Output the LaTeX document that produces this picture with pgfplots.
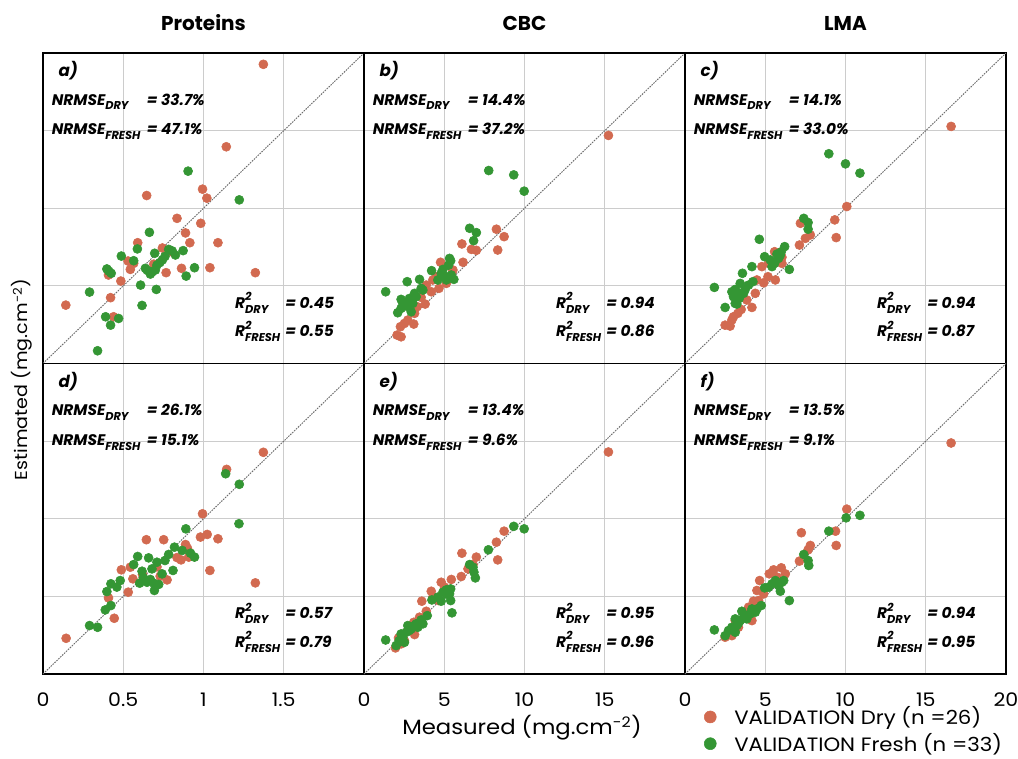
\documentclass[border=0pt]{standalone}
\usepackage{fontspec}
\setmainfont{Poppins}
\newfontfamily\cg[FakeStretch=1.1]{Poppins}
\usepackage{pgfplots}
\pgfplotsset{compat=1.18}
\usepackage{pgfplotstable}
\definecolor{dryc}{RGB}{210,106,80}
\definecolor{frc}{RGB}{52,150,52}

\pgfplotstableread{
x y
1.373 1.927
1.142 1.396
0.994 1.123
1.021 1.065
0.646 1.082
0.835 0.935
0.983 0.903
0.888 0.841
0.915 0.778
1.090 0.778
0.590 0.778
0.744 0.744
1.323 0.585
1.040 0.617
0.863 0.613
0.767 0.585
0.544 0.606
0.565 0.645
0.485 0.531
0.408 0.570
0.421 0.424
0.142 0.376
0.440 0.301
0.530 0.660
0.800 0.720
0.690 0.640
}\aDry
\pgfplotstableread{
x y
0.904 1.239
1.223 1.054
0.663 0.845
0.588 0.738
0.488 0.692
0.565 0.662
0.696 0.710
0.783 0.735
0.825 0.699
0.873 0.727
0.744 0.667
0.710 0.634
0.638 0.613
0.669 0.576
0.700 0.602
0.944 0.617
0.892 0.563
0.398 0.609
0.425 0.581
0.608 0.505
0.706 0.477
0.290 0.460
0.617 0.374
0.390 0.301
0.471 0.290
0.421 0.247
0.340 0.082
0.805 0.725
0.728 0.650
0.650 0.600
0.760 0.690
0.680 0.590
0.410 0.595
}\aFresh
\pgfplotstableread{
x y
15.23 14.69
8.25 8.65
8.73 8.17
8.33 7.31
6.10 7.70
6.69 7.35
7.00 7.29
6.17 6.52
4.77 6.52
5.54 6.02
4.29 5.38
4.67 4.84
4.19 4.62
3.81 3.83
3.15 3.23
3.10 2.54
2.27 2.37
2.06 1.83
2.31 1.72
2.73 2.80
3.56 4.26
5.13 5.16
3.88 5.05
2.52 2.58
3.31 3.66
4.50 5.59
}\bDry
\pgfplotstableread{
x y
7.77 12.43
9.33 12.15
9.98 11.10
6.58 8.71
7.00 8.43
6.83 7.91
5.33 6.77
5.27 6.34
4.92 6.06
4.21 5.98
5.60 5.42
5.02 5.63
3.46 5.42
2.69 5.27
1.35 4.62
3.56 4.84
3.15 4.52
2.31 4.13
2.83 4.19
2.52 3.76
2.10 3.27
2.94 3.33
3.25 4.30
4.81 5.81
4.60 5.38
5.40 6.62
3.67 4.73
2.73 3.66
2.31 3.55
3.04 3.87
5.13 5.38
5.44 5.70
2.42 3.87
}\bFresh
\pgfplotstableread{
x y
16.58 15.27
10.08 10.11
9.33 9.25
9.42 8.11
7.19 9.03
7.81 8.28
7.50 8.06
7.13 7.63
5.58 7.20
6.04 6.84
4.79 6.24
5.63 5.38
5.17 5.59
4.90 5.20
4.48 5.38
4.38 4.52
4.17 3.61
3.50 3.48
3.02 3.01
2.81 2.41
2.50 2.47
2.92 2.80
5.21 6.45
6.04 6.45
3.85 4.09
3.29 3.23
}\cDry
\pgfplotstableread{
x y
8.96 13.51
10.00 12.86
10.90 12.26
7.40 9.35
7.67 9.08
7.67 8.65
4.63 8.00
6.21 7.53
6.00 7.20
4.96 6.88
5.83 6.77
5.58 6.45
4.17 6.24
6.50 6.06
3.58 5.81
4.23 5.27
3.44 5.16
1.83 4.90
3.13 4.77
3.75 4.77
3.02 4.30
3.38 4.19
2.50 3.61
3.23 3.83
5.42 6.24
5.94 6.99
2.92 4.62
3.65 4.52
3.96 5.05
5.31 6.67
5.73 7.05
3.13 3.87
3.44 4.52
}\cFresh
\pgfplotstableread{
x y
1.373 1.428
1.144 1.318
0.994 1.032
0.981 0.882
1.023 0.899
1.090 0.871
0.644 0.865
0.752 0.865
0.888 0.834
0.860 0.735
0.908 0.753
1.040 0.667
1.323 0.587
0.773 0.606
0.560 0.613
0.488 0.671
0.531 0.527
0.408 0.490
0.444 0.359
0.144 0.230
0.544 0.688
0.620 0.640
0.710 0.690
0.835 0.750
0.730 0.630
0.900 0.810
}\dDry
\pgfplotstableread{
x y
1.138 1.290
1.223 1.222
1.221 0.968
0.890 0.935
0.819 0.817
0.867 0.796
0.919 0.778
0.944 0.753
0.783 0.770
0.590 0.757
0.658 0.748
0.710 0.720
0.565 0.705
0.679 0.677
0.810 0.667
0.617 0.662
0.742 0.645
0.481 0.602
0.423 0.581
0.602 0.585
0.648 0.591
0.690 0.585
0.721 0.577
0.694 0.538
0.398 0.531
0.423 0.441
0.388 0.413
0.290 0.312
0.340 0.301
0.460 0.560
0.625 0.620
0.669 0.609
0.760 0.731
}\dFresh
\pgfplotstableread{
x y
15.23 14.30
8.73 9.20
8.25 8.49
8.33 7.35
6.10 7.78
7.00 7.53
6.06 6.28
5.44 6.09
4.81 5.91
4.19 5.33
4.65 4.73
3.60 4.69
3.88 4.04
3.10 3.33
3.15 2.54
2.15 2.32
1.96 1.68
2.52 2.15
5.02 5.59
6.48 6.77
6.79 7.05
4.29 4.95
3.46 3.66
2.73 2.80
2.31 1.94
2.94 3.01
}\eDry
\pgfplotstableread{
x y
9.33 9.51
9.98 9.35
7.75 8.00
6.58 7.05
6.85 6.56
6.94 6.19
5.40 5.48
4.92 5.27
5.19 5.12
5.40 4.73
4.23 4.77
4.81 4.69
5.48 3.94
3.94 3.76
3.56 3.48
3.25 3.23
2.73 3.12
2.94 2.90
2.31 2.58
2.19 2.15
1.35 2.19
2.52 2.04
2.00 1.83
3.35 3.01
3.67 3.23
2.83 2.80
3.15 3.12
5.13 5.42
4.60 4.95
2.42 2.37
2.63 2.69
6.79 6.88
5.33 5.16
}\eFresh
\pgfplotstableread{
x y
16.58 14.88
10.08 10.62
9.38 9.20
9.42 8.28
7.25 9.10
7.81 8.28
7.67 8.00
7.13 7.27
6.00 6.84
5.52 6.71
5.25 6.45
4.65 6.02
4.48 5.38
4.27 4.69
4.17 3.44
3.13 3.44
2.92 2.47
2.50 2.37
6.25 6.45
5.73 6.24
4.90 5.16
3.75 3.87
3.33 3.01
2.71 2.69
3.96 4.30
4.58 4.73
}\fDry
\pgfplotstableread{
x y
10.04 10.06
10.90 10.22
8.96 9.20
7.40 7.70
7.67 7.31
7.71 6.99
6.15 6.02
5.63 6.02
5.94 5.33
4.96 5.55
5.42 5.81
6.50 4.73
4.75 4.41
4.17 4.19
3.54 4.04
3.85 3.76
3.13 3.55
3.33 3.27
2.92 3.01
1.83 2.84
2.50 2.47
3.13 2.69
4.38 3.98
3.65 3.66
4.06 3.87
3.44 3.44
2.71 2.80
5.83 5.70
5.21 5.59
6.04 5.91
4.48 4.19
3.85 3.55
3.23 3.12
}\fFresh

\newcommand{\sub}[1]{\raisebox{-0.3em}{\fontsize{8.5}{9}\selectfont #1}}
\newcommand{\Rsq}[1]{R\rlap{\raisebox{0.5em}{\fontsize{8.5}{9}\selectfont 2}}\raisebox{-0.32em}{\fontsize{8.5}{9}\selectfont #1}}

\tikzset{st/.style={anchor=base west, inner sep=0pt, font=\fontsize{11.5}{14}\selectfont\bfseries\itshape}}
\pgfplotsset{
  panel/.style={
    scale only axis, width=240.75pt, height=232.875pt, anchor=south west,
    axis line style={black, line width=1.4pt},
    grid=major, major grid style={gray!40, line width=0.7pt},
    yticklabels={}, major tick length=0pt,
    xticklabel style={font=\cg\fontsize{14}{16}\selectfont, yshift=-10.5pt},
    /pgf/number format/assume math mode=true,
    clip=false,
  },
  prot/.style={xmin=0,xmax=2,ymin=0,ymax=2,xtick={0,0.5,1,1.5},ytick={0.5,1,1.5}},
  big/.style={xmin=0,xmax=20,ymin=0,ymax=20,xtick={0,5,10,15},ytick={5,10,15}},
  nolab/.style={xticklabels={}},
  dry/.style={only marks, mark=*, mark size=3.4pt, color=dryc},
  fresh/.style={only marks, mark=*, mark size=3.4pt, color=frc},
  diag/.style={gray!85!black, dash pattern=on 1.2pt off 0.8pt, line width=0.7pt, forget plot},
}
\newcommand{\stats}[5]{%
  \node[st, font=\fontsize{12.5}{14}\selectfont\bfseries\itshape] at (rel axis cs:0.048,0.924) {#1};
  \node[st] at (rel axis cs:0.027,0.8325) {NRMSE\sub{DRY}};
  \node[st] at (rel axis cs:0.323,0.8325) {= #2};
  \node[st] at (rel axis cs:0.027,0.736) {NRMSE\sub{FRESH}};
  \node[st] at (rel axis cs:0.323,0.736) {= #3};
  \node[st] at (rel axis cs:0.598,0.178) {\Rsq{DRY}};
  \node[st] at (rel axis cs:0.754,0.178) {= #4};
  \node[st] at (rel axis cs:0.598,0.0863) {\Rsq{FRESH}};
  \node[st] at (rel axis cs:0.754,0.0863) {= #5};
}

\begin{document}
\begin{tikzpicture}
\path[use as bounding box] (0,0) rectangle (763.5pt,568.5pt);

% top row
\begin{axis}[panel, prot, nolab, at={(32.25pt,295.875pt)}]
\addplot[diag] coordinates {(0,0) (2,2)};
\addplot[dry] table {\aDry};
\addplot[fresh] table {\aFresh};
\stats{a)}{33.7\%}{47.1\%}{0.45}{0.55}
\end{axis}
\begin{axis}[panel, big, nolab, at={(273pt,295.875pt)}]
\addplot[diag] coordinates {(0,0) (20,20)};
\addplot[dry] table {\bDry};
\addplot[fresh] table {\bFresh};
\stats{b)}{14.4\%}{37.2\%}{0.94}{0.86}
\end{axis}
\begin{axis}[panel, big, nolab, at={(513.75pt,295.875pt)}]
\addplot[diag] coordinates {(0,0) (20,20)};
\addplot[dry] table {\cDry};
\addplot[fresh] table {\cFresh};
\stats{c)}{14.1\%}{33.0\%}{0.94}{0.87}
\end{axis}

% bottom row
\begin{axis}[panel, prot, at={(32.25pt,63pt)}]
\addplot[diag] coordinates {(0,0) (2,2)};
\addplot[dry] table {\dDry};
\addplot[fresh] table {\dFresh};
\stats{d)}{26.1\%}{15.1\%}{0.57}{0.79}
\end{axis}
\begin{axis}[panel, big, at={(273pt,63pt)}]
\addplot[diag] coordinates {(0,0) (20,20)};
\addplot[dry] table {\eDry};
\addplot[fresh] table {\eFresh};
\stats{e)}{13.4\%}{9.6\%}{0.95}{0.96}
\end{axis}
\begin{axis}[panel, big, xtick={0,5,10,15,20}, at={(513.75pt,63pt)},
  legend style={at={(0,0)}, anchor=north west, xshift=11.25pt, yshift=-20.5pt, draw=none, fill=none,
    font=\cg\fontsize{14.5}{16}\selectfont, row sep=1pt, legend cell align=left},
  legend image code/.code={\path[draw=none] (-4.5pt,0pt) -- (16pt,0pt);
    \draw[#1, draw=none, mark size=4.5pt] plot coordinates {(0pt,0pt)};}]
\addplot[diag] coordinates {(0,0) (20,20)};
\addplot[dry] table {\fDry};
\addplot[fresh] table {\fFresh};
\stats{f)}{13.5\%}{9.1\%}{0.94}{0.95}
\legend{VALIDATION Dry (n =26), VALIDATION Fresh (n =33)}
\end{axis}

% titles and labels
\node[font=\fontsize{15}{18}\selectfont\bfseries] at (152.6pt,551.25pt) {Proteins};
\node[font=\fontsize{15}{18}\selectfont\bfseries] at (393.4pt,551.25pt) {CBC};
\node[font=\fontsize{15}{18}\selectfont\bfseries] at (634.1pt,551.25pt) {LMA};
\node[rotate=90, font=\cg\fontsize{13}{16}\selectfont] at (16.5pt,284pt) {Estimated (mg.cm\textsuperscript{-2})};
\node[font=\cg\fontsize{15.5}{18}\selectfont] at (391.5pt,22.5pt) {Measured (mg.cm\textsuperscript{-2})};
\end{tikzpicture}
\end{document}
